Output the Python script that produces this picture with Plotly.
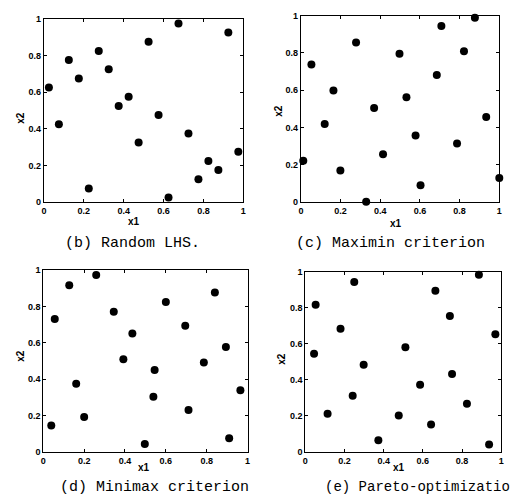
import plotly.graph_objects as go

# Panel (b) Random LHS
b_x1 = [0.025, 0.075, 0.125, 0.175, 0.225, 0.275, 0.325, 0.375, 0.425, 0.475,
        0.525, 0.575, 0.625, 0.675, 0.725, 0.775, 0.825, 0.875, 0.925, 0.975]
b_x2 = [0.625, 0.425, 0.775, 0.675, 0.075, 0.825, 0.725, 0.525, 0.575, 0.325,
        0.875, 0.475, 0.025, 0.975, 0.375, 0.125, 0.225, 0.175, 0.925, 0.275]

# Panel (c) Maximin criterion
c_x1 = [0.012, 0.053, 0.12, 0.164, 0.199, 0.278, 0.329, 0.369, 0.414, 0.497,
        0.532, 0.578, 0.603, 0.685, 0.708, 0.787, 0.822, 0.877, 0.934, 1.0]
c_x2 = [0.221, 0.737, 0.418, 0.598, 0.168, 0.856, 0.0, 0.504, 0.256, 0.795,
        0.562, 0.356, 0.089, 0.681, 0.944, 0.313, 0.809, 0.988, 0.456, 0.128]

# Panel (d) Minimax criterion
d_x1 = [0.039, 0.056, 0.127, 0.161, 0.2, 0.259, 0.345, 0.392, 0.436, 0.497,
        0.539, 0.545, 0.6, 0.695, 0.711, 0.786, 0.84, 0.894, 0.91, 0.965]
d_x2 = [0.144, 0.730, 0.917, 0.374, 0.191, 0.973, 0.770, 0.509, 0.651, 0.042,
        0.302, 0.45, 0.824, 0.693, 0.23, 0.491, 0.876, 0.577, 0.074, 0.338]

# Panel (e) Pareto-optimization
e_x1 = [0.045, 0.053, 0.114, 0.18, 0.242, 0.25, 0.298, 0.373, 0.477, 0.511,
        0.586, 0.642, 0.664, 0.738, 0.749, 0.825, 0.886, 0.938, 0.97]
e_x2 = [0.545, 0.818, 0.211, 0.684, 0.311, 0.945, 0.484, 0.064, 0.202, 0.582,
        0.373, 0.151, 0.896, 0.755, 0.433, 0.267, 0.985, 0.04, 0.654]

captions = ["(b) Random LHS.", "(c) Maximin criterion",
            "(d) Minimax criterion", "(e) Pareto-optimization"]
tick_vals = [0, 0.2, 0.4, 0.6, 0.8, 1]
tick_text = ["0", "0.2", "0.4", "0.6", "0.8", "1"]

panels = [(b_x1, b_x2), (c_x1, c_x2), (d_x1, d_x2), (e_x1, e_x2)]
xdoms = [[0.0643, 0.4537], [0.5662, 0.9537], [0.0631, 0.4620], [0.5747, 0.9575]]
ydoms = [[0.6132, 0.9880], [0.6138, 0.9946], [0.1028, 0.4743], [0.1028, 0.4703]]
cap_pos = [(0.2375, 0.529), (0.741, 0.529), (0.280, 0.030), (0.994, 0.030)]
cap_anchor = ["center", "center", "center", "right"]
cap_size = [15, 15, 15, 14]
x1_pos = [(0.2394, 0.573), (0.7529, 0.569), (0.2606, 0.070), (0.7587, 0.070)]
x2_pos = [(0.0193, 0.7856), (0.5232, 0.7996), (0.0193, 0.2986), (0.5290, 0.2926)]

fig = go.Figure()
tickfont = dict(family="Liberation Sans", size=9, color="black", weight="bold")
labfont = dict(family="Liberation Sans", size=10, color="black", weight="bold")
for i, (xs, ys) in enumerate(panels):
    n = "" if i == 0 else str(i + 1)
    fig.add_trace(go.Scatter(
        x=xs, y=ys, mode="markers", xaxis="x" + n, yaxis="y" + n,
        marker=dict(color="black", size=8), cliponaxis=False, showlegend=False))
    common = dict(range=[0, 1], tickvals=tick_vals, ticktext=tick_text,
                  ticks="inside", ticklen=3, tickcolor="black", mirror="allticks",
                  showline=True, linecolor="black", linewidth=1, showgrid=False,
                  zeroline=False, tickfont=tickfont, fixedrange=True)
    fig.update_layout(**{
        "xaxis" + n: dict(domain=xdoms[i], anchor="y" + n, **common),
        "yaxis" + n: dict(domain=ydoms[i], anchor="x" + n, **common),
    })
    fig.add_annotation(text=captions[i], x=cap_pos[i][0], y=cap_pos[i][1],
                       xref="paper", yref="paper", showarrow=False,
                       xanchor=cap_anchor[i], yanchor="middle",
                       font=dict(family="Liberation Mono", size=cap_size[i],
                                 color="black"))
    fig.add_annotation(text="x1", x=x1_pos[i][0], y=x1_pos[i][1],
                       xref="paper", yref="paper", showarrow=False,
                       xanchor="center", yanchor="middle", font=labfont)
    fig.add_annotation(text="x2", x=x2_pos[i][0], y=x2_pos[i][1],
                       xref="paper", yref="paper", showarrow=False,
                       xanchor="center", yanchor="middle", textangle=-90,
                       font=labfont)

fig.update_layout(width=518, height=499, margin=dict(l=0, r=0, t=0, b=0),
                  paper_bgcolor="white", plot_bgcolor="white")
fig.write_html("out.html")
